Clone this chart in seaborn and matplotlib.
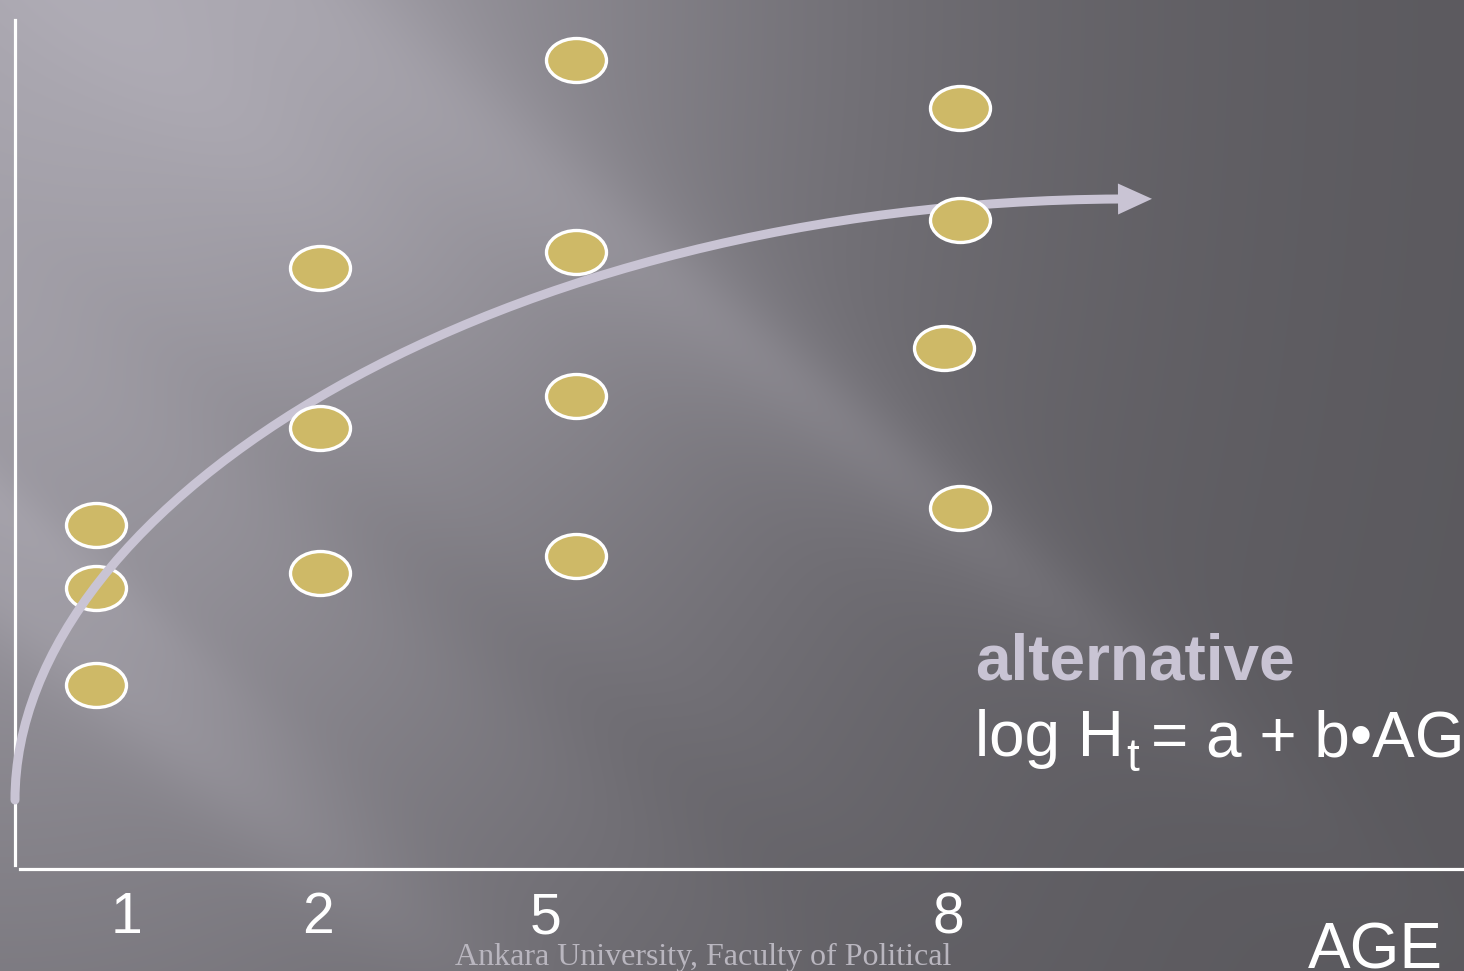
import numpy as np
import matplotlib
matplotlib.use("Agg")
import matplotlib.pyplot as plt
from matplotlib.path import Path
from matplotlib.patches import PathPatch, Polygon
import seaborn as sns

# ---------------- data ----------------
ages = ["1", "2", "5", "8"]
tick_pos = [1.11, 3.03, 5.31, 9.33]

point_age = ["1", "1", "1", "2", "2", "2", "5", "5", "5", "5", "8", "8", "8", "8"]
point_x = [0.81, 0.81, 0.81, 3.05, 3.05, 3.05, 5.61, 5.61, 5.61, 5.61, 9.45, 9.45, 9.29, 9.45]
point_y = [3.44, 2.81, 1.84, 6.01, 4.41, 2.96, 8.09, 6.17, 4.73, 3.13, 7.61, 6.49, 5.21, 3.61]

# trend curve (cubic Bezier control points, axes data units)
trend_ctrl = [(0.0, 0.69), (0.0, 3.69), (4.85, 6.67), (11.05, 6.70)]

title_word = "alternative"
formula_main = "log H"
formula_sub = "t"
formula_rest = "= a + b•AGE"
xlabel = "AGE"
footer = "Ankara University, Faculty of Political"

# ---------------- style ----------------
sns.set_style("white")
plt.rcParams["font.family"] = ["Liberation Sans", "DejaVu Sans"]

W, H = 1464, 971
fig = plt.figure(figsize=(W / 100, H / 100), dpi=100)

# ---------------- background ----------------
bg = fig.add_axes([0, 0, 1, 1])
Y, X = np.mgrid[0:H, 0:W].astype(float)
L = 0.35 + 0.31 * np.exp(-((X / 800.0) ** 2 + (Y / 1100.0) ** 2))
th = np.deg2rad(40)
v = -X * np.sin(th) + Y * np.cos(th)
u = X * np.cos(th) + Y * np.sin(th)

def band(px, py, sigma, amp, ulen=700.0):
    v0 = -px * np.sin(th) + py * np.cos(th)
    u0 = px * np.cos(th) + py * np.sin(th)
    return amp * np.exp(-((v - v0) / sigma) ** 2) * np.exp(-((u - u0) / ulen) ** 2)

L += band(620, 260, 75, 0.055, 650)
L += band(900, 470, 35, 0.03, 400)
L += band(250, 120, 90, 0.035, 500)
L += band(120, 680, 55, 0.05, 450)
L += band(20, 520, 30, 0.03, 300)
L += band(420, 560, 60, -0.025, 500)
rgb = np.clip(np.dstack([L * 1.0, L * 0.982, L * 1.035]), 0, 1)
bg.imshow(rgb, extent=[0, W, H, 0], aspect="auto", interpolation="bilinear")
bg.set_xlim(0, W)
bg.set_ylim(H, 0)
bg.axis("off")

# ---------------- main axes ----------------
ax = fig.add_axes([15 / W, (H - 869) / H, (W - 15) / W, 869 / H])
ax.patch.set_alpha(0)
ax.set_xlim(0, (W - 15) / 100)
ax.set_ylim(0, 8.69)

for s in ["top", "right"]:
    ax.spines[s].set_visible(False)
for s in ["left", "bottom"]:
    ax.spines[s].set_color("white")
    ax.spines[s].set_linewidth(2.3)
ax.spines["left"].set_bounds(0.04, 8.49)
ax.spines["bottom"].set_bounds(0.05, (W - 15) / 100)

ax.set_xticks(tick_pos, ages)
ax.set_yticks([])
ax.tick_params(axis="x", length=0, pad=16, labelsize=41, labelcolor="white")

ax.set_xlabel(xlabel, fontsize=46, color="white")
ax.xaxis.set_label_coords((1375 - 15) / (W - 15), (869 - 921) / 869)

# ellipse marker
circ = Path.unit_circle()
ell = Path(circ.vertices * np.array([1.0, 0.733]), circ.codes)

gold = "#CEB967"
lav = "#C9C4D4"

xs = np.array(point_x)
ys = np.array(point_y)
grp = np.array(point_age)
low = grp == "1"

sns.scatterplot(x=xs[low], y=ys[low], ax=ax, marker=ell, s=1866, color=gold,
                edgecolor="white", linewidth=2.4, zorder=2, legend=False, clip_on=False)

# trend curve
cp = np.array(trend_ctrl)
curve = Path(cp, [Path.MOVETO, Path.CURVE4, Path.CURVE4, Path.CURVE4])
ax.add_patch(PathPatch(curve, fill=False, edgecolor=lav, lw=6.5, capstyle="round",
                       zorder=3, clip_on=False))
d = cp[3] - cp[2]
d = d / np.hypot(*d)
n = np.array([-d[1], d[0]])
base = cp[3] - 0.02 * d
tip = cp[3] + 0.32 * d
ax.add_patch(Polygon([base + 0.155 * n, tip, base - 0.155 * n], closed=True,
                     facecolor=lav, edgecolor="none", zorder=3, clip_on=False))

sns.scatterplot(x=xs[~low], y=ys[~low], ax=ax, marker=ell, s=1866, color=gold,
                edgecolor="white", linewidth=2.4, zorder=4, legend=False, clip_on=False)

# annotation text
fig.text(975 / W, (H - 679) / H, title_word, fontsize=46, fontweight="bold",
         color=lav, ha="left", va="baseline")
t1 = fig.text(975 / W, (H - 756) / H, formula_main, fontsize=46, color="white",
              ha="left", va="baseline")
fig.canvas.draw()
r = fig.canvas.get_renderer()
bb1 = t1.get_window_extent(r)
t2 = fig.text((bb1.x1 + 2) / W, (H - 771) / H, formula_sub, fontsize=33, color="white",
              ha="left", va="baseline")
bb2 = t2.get_window_extent(r)
fig.text((bb2.x1 + 12) / W, (H - 756) / H, formula_rest, fontsize=46, color="white",
         ha="left", va="baseline")

fig.text(455 / W, (H - 965) / H, footer, family=["Liberation Serif", "DejaVu Serif"],
         fontsize=23, color="#B9B6BF", ha="left", va="baseline")

fig.savefig("out.png", dpi=100)
